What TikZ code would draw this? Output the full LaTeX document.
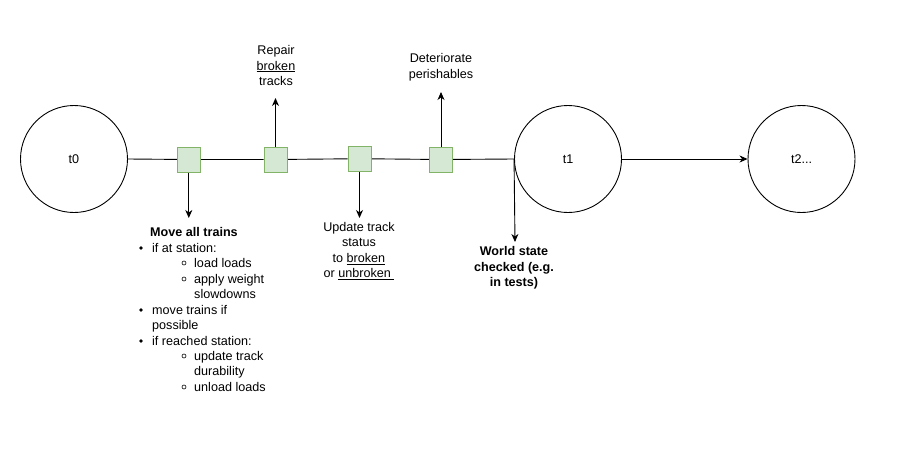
\documentclass[tikz,border=0pt]{standalone}
\usepackage{fontspec}
\setmainfont{Liberation Sans}
\usetikzlibrary{arrows.meta,backgrounds}
\definecolor{evtfill}{HTML}{D5E8D4}
\definecolor{evtline}{HTML}{82B366}
\newcommand{\fs}{\fontsize{12.6}{15.6}\selectfont}
\begin{document}
\begin{tikzpicture}[x=1pt,y=-1pt,
  state/.style={circle,draw,line width=0.9pt,minimum size=107pt,inner sep=0pt,font=\fs},
  evt/.style={rectangle,draw=evtline,fill=evtfill,line width=1pt,minimum width=23pt,minimum height=25pt,inner sep=0pt},
  arr/.style={line width=0.9pt,-{Stealth[length=8pt,width=7pt,inset=2.5pt]}},
  lbl/.style={align=center,font=\fs,inner sep=0pt},
  li/.style={anchor=base west,font=\fs,inner sep=0pt},
  bul/.style={circle,fill,inner sep=0pt,minimum size=3.6pt},
  sbul/.style={circle,draw,line width=0.6pt,inner sep=0pt,minimum size=4pt}]
\useasboundingbox (0,0) rectangle (903,450);
\node[state] (t0) at (74,159) {t0};
\node[state] (t1) at (568,159) {t1};
\node[state] (t2) at (801.5,159) {t2...};
\node[evt] (s1) at (188.8,159.5) {};
\node[evt] (s2) at (275.5,159.5) {};
\node[evt] (s3) at (359.5,158.7) {};
\node[evt] (s4) at (441,159.5) {};
\begin{scope}[on background layer]
\draw[line width=0.9pt] (t0.east) -- (s1) -- (s2) -- (s3) -- (s4) -- (t1.west);
\end{scope}
\coordinate (j) at (t1.west);
\draw[arr] (t1) -- (t2);
% labels
\node[lbl] (repair) at (276,65.5) {Repair\\\underline{broken}\\tracks};
\node[lbl] (deter) at (441,67) {Deteriorate\\perishables};
\node[lbl] (update) at (359,251) {Update track\\status\\to \underline{broken}\\or \underline{unbroken\ }};
\node[lbl,font=\fs\bfseries] (world) at (514,268) {World state\\checked (e.g.\\in tests)};
\coordinate (a2) at (275.5,98);
\coordinate (a4) at (441,92);
\coordinate (a1) at (188.8,218);
\coordinate (a3) at (359.5,218);
\coordinate (aw) at (515,242);
\draw[arr] (s1.south) -- (a1);
\draw[arr] (s2.north) -- (a2);
\draw[arr] (s3.south) -- (a3);
\draw[arr] (s4.north) -- (a4);
\draw[arr] (j) -- (aw);
% list
\node[li,font=\fs\bfseries] (m0) at (150,236) {Move all trains};
\node[bul] (b1) at (141,248) {};
\node[li] (m1) at (152,252) {if at station:};
\node[sbul] (c1) at (184,263) {};
\node[li] (m2) at (194,267) {load loads};
\node[sbul] (c2) at (184,279) {};
\node[li] (m3) at (194,283) {apply weight};
\node[li] (m4) at (194,298.5) {slowdowns};
\node[bul] (b2) at (141,310) {};
\node[li] (m5) at (152,314) {move trains if};
\node[li] (m6) at (152,329.5) {possible};
\node[bul] (b3) at (141,341) {};
\node[li] (m7) at (152,345) {if reached station:};
\node[sbul] (c3) at (184,356) {};
\node[li] (m8) at (194,360) {update track};
\node[li] (m9) at (194,375.5) {durability};
\node[sbul] (c4) at (184,387) {};
\node[li] (m10) at (194,391) {unload loads};
\end{tikzpicture}
\end{document}
